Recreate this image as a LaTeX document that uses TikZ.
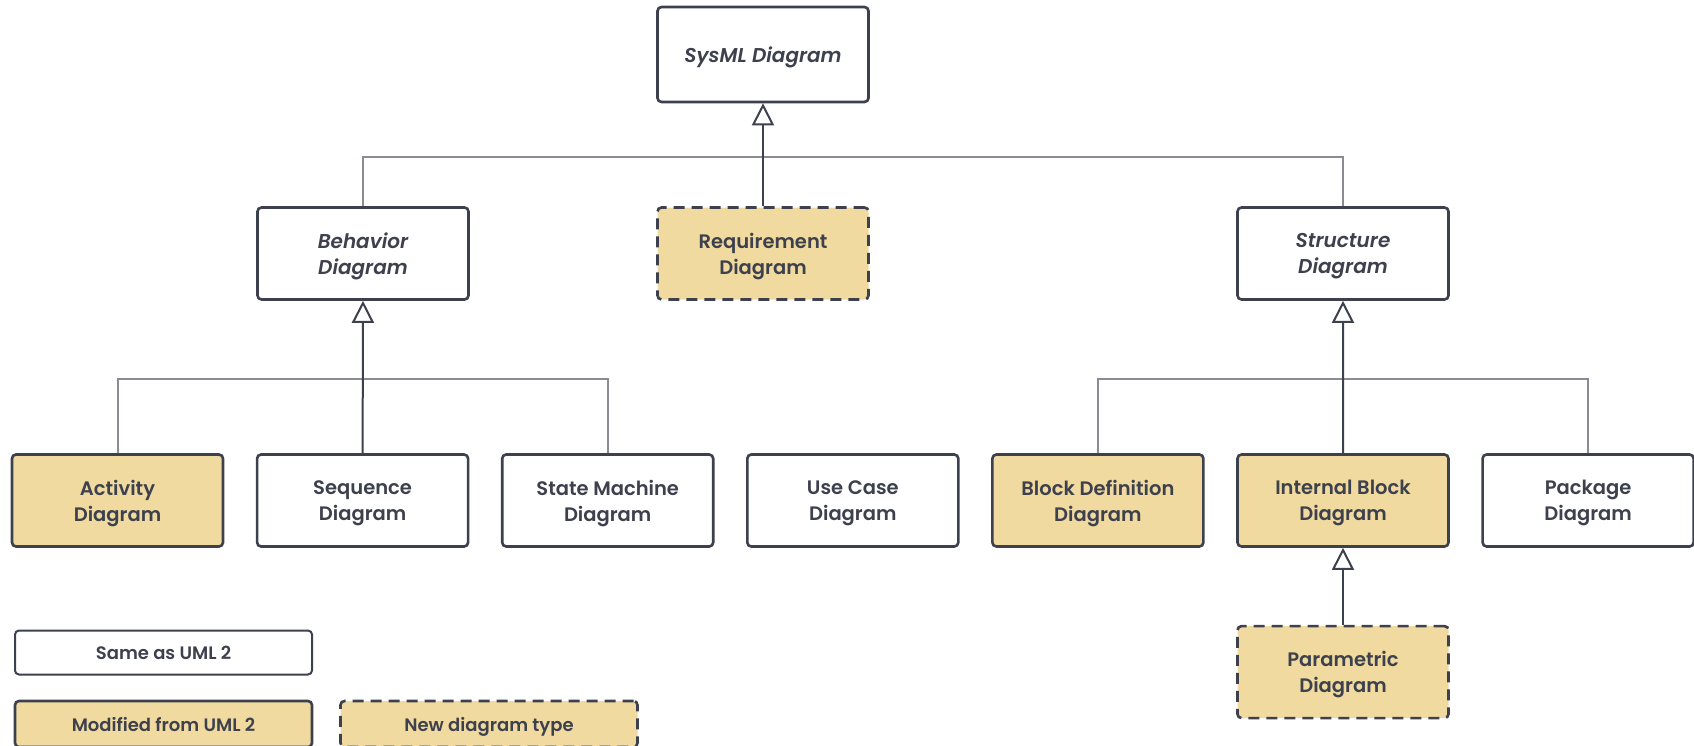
\documentclass[tikz,border=0pt]{standalone}
\usepackage{fontspec}
\setmainfont{Poppins}[UprightFont=* SemiBold,ItalicFont=* SemiBold Italic]
\usetikzlibrary{arrows.meta,positioning}
\definecolor{sysdark}{HTML}{3D404D}
\definecolor{sysline}{HTML}{8A8C95}
\definecolor{systan}{HTML}{F0DA9F}

\begin{document}
\begin{tikzpicture}[
    x=1pt,y=-1pt,
    node distance=31.5pt,
    diag/.style={draw=sysdark,line width=2.6pt,rounded corners=4pt,fill=white,
      minimum width=211pt,minimum height=92pt,align=center,text=sysdark,
      text depth=0pt,font=\fontsize{19.5}{26}\selectfont},
    abstract/.style={diag,font=\fontsize{20}{26}\selectfont\itshape},
    modified/.style={diag,fill=systan},
    newtype/.style={modified,dash pattern=on 11pt off 7pt},
    legend/.style={diag,minimum width=297pt,minimum height=44pt,font=\fontsize{18}{20}\selectfont},
    tree/.style={draw=sysline,line width=2pt},
    gen/.style={draw=sysdark,line width=2pt,-{Triangle[open,length=22pt,width=22pt,fill=white]}}
]
\useasboundingbox (0,0) rectangle (1694,745);

% top of the hierarchy
\node[abstract,minimum height=95pt] (sysml) at (763,54.5) {SysML Diagram};
\node[newtype] (req) at (763,253.5) {Requirement\\Diagram};
\node[abstract] (behav) at (363,253.5) {Behavior\\Diagram};
\node[abstract] (struct) at (1343,253.5) {Structure\\Diagram};

% leaf diagrams
\node[modified] (activity) at (117.5,500.5) {Activity\\Diagram};
\node[diag,right=of activity] (sequence) {Sequence\\Diagram};
\node[diag,right=of sequence] (statemach) {State Machine\\Diagram};
\node[diag,right=of statemach] (usecase) {Use Case\\Diagram};
\node[modified,right=of usecase] (blockdef) {Block Definition\\Diagram};
\node[modified,right=of blockdef] (internal) {Internal Block\\Diagram};
\node[diag,right=of internal] (package) {Package\\Diagram};
\node[newtype,below=77pt of internal] (param) {Parametric\\Diagram};

% legend
\node[legend,line width=2pt] (same) at (163.5,652.5) {Same as UML 2};
\node[legend,modified,minimum width=297pt,minimum height=46pt,font=\fontsize{18}{20}\selectfont] (modif) at (163.5,724) {Modified from UML 2};
\node[legend,newtype,minimum width=297pt,minimum height=46pt,font=\fontsize{18}{20}\selectfont] (newt) at (489,724) {New diagram type};

% generalizations
\coordinate (topbar) at (763,157);
\coordinate (behbar) at (363,379);
\coordinate (strbar) at (1343,379);
\draw[tree] (behav.north) |- (topbar) -| (struct.north);
\draw[gen] (req.north) -- (sysml.south);
\draw[tree] (activity.north) |- (behbar) -| (statemach.north);
\draw[gen] (sequence.north) -- (behav.south);
\draw[tree] (blockdef.north) |- (strbar) -| (package.north);
\draw[gen] (internal.north) -- (struct.south);
\draw[gen] (param.north) -- (internal.south);
\end{tikzpicture}
\end{document}
